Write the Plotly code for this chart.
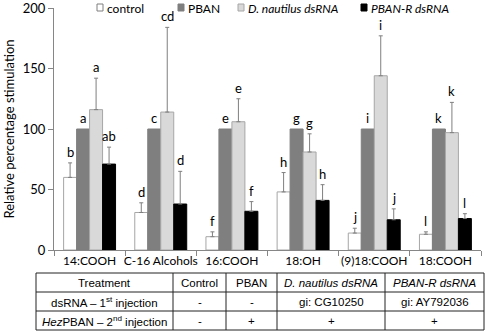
import plotly.graph_objects as go

# ---------------- data ----------------
categories = ["14:COOH", "C-16 Alcohols", "16:COOH", "18:OH", "(9)18:COOH", "18:COOH"]

control = [60, 31, 11, 48, 14, 13]
control_err = [12, 8, 4, 16, 4, 2]
control_letters = ["b", "d", "f", "h", "j", "l"]

pban = [100, 100, 100, 100, 100, 100]
pban_letters = ["a", "c", "e", "g", "i", "k"]

dnaut = [116, 114, 106, 81, 144, 97]
dnaut_err = [26, 70, 19, 15, 33, 25]
dnaut_letters = ["a", "cd", "e", "g", "i", "k"]

pbanr = [71, 38, 32, 41, 25, 26]
pbanr_err = [14, 27, 8, 13, 9, 4]
pbanr_letters = ["ab", "d", "f", "h", "j", "l"]

series_names = ["control", "PBAN", "D. nautilus dsRNA", "PBAN-R dsRNA"]

table_rows = [
    ["Treatment", "Control", "PBAN", "<i>D. nautilus dsRNA</i>", "<i>PBAN-R dsRNA</i>"],
    ["dsRNA – 1<sup>st</sup> injection", "-", "-", "gi: CG10250", "gi: AY792036"],
    ["<i>Hez</i>PBAN – 2<sup>nd</sup> injection", "-", "+", "+", "+"],
]

# ---------------- styles ----------------
W, H = 486, 332
ML, MR, MT, MB = 54, 5, 8, 82
PW, PH = W - ML - MR, H - MT - MB
FONT = "Lato, Carlito, sans-serif"
TFONT = "Liberation Sans, Arial, sans-serif"
BARGAP = 0.27

fills = ["#ffffff", "#7f7f7f", "#d9d9d9", "#000000"]
lines = ["#a6a6a6", "#7f7f7f", "#a6a6a6", "#000000"]

def px2x(px):
    return (px - ML) / PW

def px2y(py):
    return (H - MB - py) / PH

fig = go.Figure()

vals = [control, pban, dnaut, pbanr]
errs = [control_err, None, dnaut_err, pbanr_err]
letters = [control_letters, pban_letters, dnaut_letters, pbanr_letters]

for i in range(4):
    ey = dict(visible=False)
    if errs[i] is not None:
        ey = dict(type="data", symmetric=False, array=errs[i], arrayminus=[0] * len(errs[i]),
                  color="#7f7f7f", thickness=1, width=2)
    fig.add_trace(go.Bar(
        x=categories, y=vals[i], name=series_names[i],
        marker=dict(color=fills[i], line=dict(color=lines[i], width=1)),
        error_y=ey, showlegend=False,
    ))

# significance letters
bw = (1 - BARGAP) / 4
for i in range(4):
    for ci in range(len(categories)):
        top = vals[i][ci] + (errs[i][ci] if errs[i] is not None else 0)
        fig.add_annotation(
            x=ci + (i - 1.5) * bw, y=top, xref="x", yref="y",
            text=letters[i][ci], showarrow=False, yanchor="bottom", yshift=1,
            font=dict(family=FONT, size=13, color="#000"),
        )

# legend (drawn)
leg_sq_x = [97, 178, 238, 361]
leg_txt = ["control", "PBAN", "<i>D. nautilus dsRNA</i>", "<i>PBAN-R dsRNA</i>"]
for i in range(4):
    x0 = leg_sq_x[i]
    fig.add_shape(type="rect", xref="paper", yref="paper",
                  x0=px2x(x0), x1=px2x(x0 + 6), y0=px2y(11), y1=px2y(4),
                  fillcolor=fills[i], line=dict(color=lines[i] if i != 0 else "#7f7f7f", width=1))
    fig.add_annotation(x=px2x(x0 + 8), y=px2y(8), xref="paper", yref="paper",
                       text=leg_txt[i], showarrow=False, xanchor="left", yanchor="middle",
                       font=dict(family=FONT, size=12, color="#000"))

# table
col_x = [36, 173, 226, 277, 385, 484]
row_y = [273, 292, 311, 330]
lc = "#222222"
for yy in row_y:
    fig.add_shape(type="line", xref="paper", yref="paper",
                  x0=px2x(col_x[0]), x1=px2x(col_x[-1]), y0=px2y(yy), y1=px2y(yy),
                  line=dict(color=lc, width=1))
for xx in col_x:
    fig.add_shape(type="line", xref="paper", yref="paper",
                  x0=px2x(xx), x1=px2x(xx), y0=px2y(row_y[0]), y1=px2y(row_y[-1]),
                  line=dict(color=lc, width=1))
for r, row in enumerate(table_rows):
    yc = (row_y[r] + row_y[r + 1]) / 2
    for c, txt in enumerate(row):
        xc = (col_x[c] + col_x[c + 1]) / 2
        fig.add_annotation(x=px2x(xc), y=px2y(yc), xref="paper", yref="paper",
                           text=txt, showarrow=False, xanchor="center", yanchor="middle",
                           font=dict(family=TFONT, size=11.5, color="#000"))

fig.update_layout(
    width=W, height=H,
    margin=dict(l=ML, r=MR, t=MT, b=MB, autoexpand=False),
    paper_bgcolor="white", plot_bgcolor="white",
    barmode="group", bargap=BARGAP, bargroupgap=0,
    showlegend=False,
    font=dict(family=FONT, size=12, color="#000"),
    xaxis=dict(type="category", showline=True, linecolor="#868686", linewidth=1,
               ticks="outside", tickson="boundaries", ticklen=5, tickcolor="#868686",
               tickangle=0, automargin=False,
               showgrid=False, tickfont=dict(family=FONT, size=12, color="#000")),
    yaxis=dict(range=[0, 200], tickvals=[0, 50, 100, 150, 200], showline=True,
               linecolor="#868686", linewidth=1, ticks="outside", ticklen=5,
               tickcolor="#868686", showgrid=False, zeroline=False, automargin=False,
               ticklabeloverflow="allow",
               title=dict(text="Relative percentage stimulation",
                          font=dict(family=FONT, size=13, color="#000"), standoff=5),
               tickfont=dict(family=FONT, size=13, color="#000")),
)

fig.write_html("out.html", config={"displayModeBar": False},
               post_script="document.body.style.margin='0';document.body.style.overflow='hidden';")
